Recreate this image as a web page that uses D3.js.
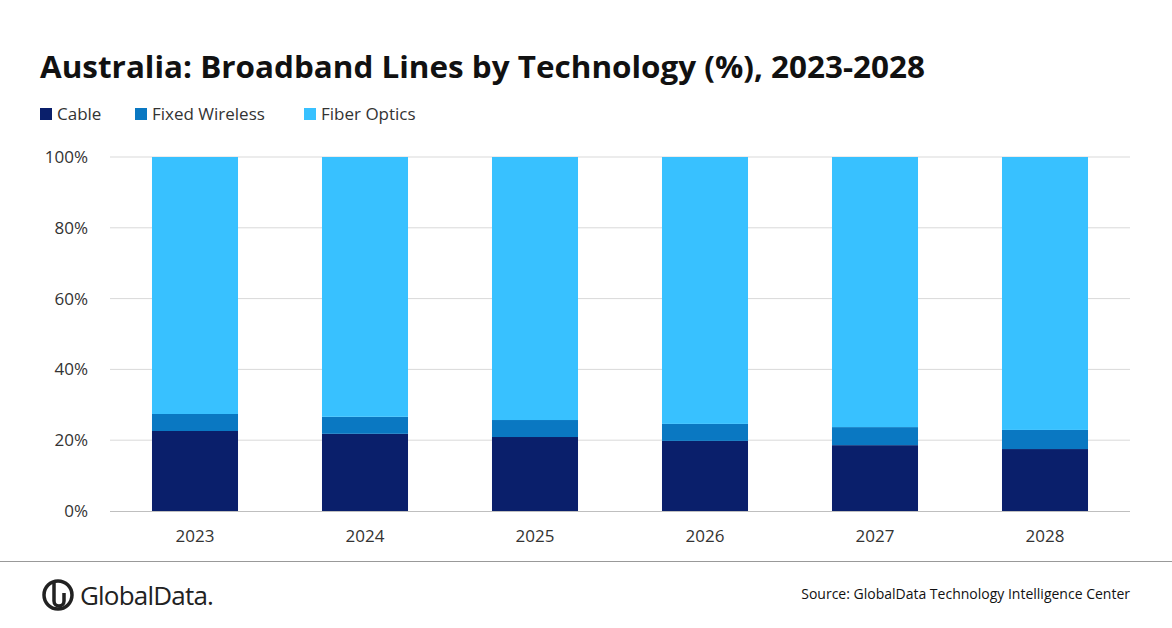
<!DOCTYPE html>
<html><head><meta charset="utf-8">
<script src="https://cdn.jsdelivr.net/npm/d3@7"></script>
<style>body{margin:0;background:#fff;font-family:"Open Sans",sans-serif}</style>
</head><body><div id="chart"></div>
<script>
const years = ["2023", "2024", "2025", "2026", "2027", "2028"];
const cable = [22.6, 21.8, 20.9, 19.8, 18.6, 17.5];
const fixedWireless = [4.8, 4.8, 4.8, 4.8, 5.1, 5.4];
const fiberOptics = years.map((y, i) => 100 - cable[i] - fixedWireless[i]);
const seriesNames = ["Cable", "Fixed Wireless", "Fiber Optics"];
const colors = ["#0a1f6b", "#0a78c2", "#38c1ff"];
const yTicks = [0, 20, 40, 60, 80, 100];

const W = 1172, H = 628;
const svg = d3.select("#chart").append("svg").attr("width", W).attr("height", H);

svg.append("text").attr("x", 40).attr("y", 78).attr("font-size", 31).attr("font-weight", "bold")
  .attr("fill", "#111").attr("textLength", 885).attr("lengthAdjust", "spacingAndGlyphs")
  .text("Australia: Broadband Lines by Technology (%), 2023-2028");

// legend
const legendX = [40, 135, 304];
seriesNames.forEach((s, i) => {
  const g = svg.append("g").attr("transform", `translate(${legendX[i]},114)`);
  g.append("rect").attr("y", -6).attr("width", 12).attr("height", 12).attr("fill", colors[i]);
  g.append("text").attr("x", 17).attr("y", 6).attr("font-size", 17).attr("fill", "#333").text(s);
});

const x = d3.scaleBand().domain(years).range([110, 1130]).paddingInner(0.494).paddingOuter(0.247);
const y = d3.scaleLinear().domain([0, 100]).range([511, 157]);

svg.append("g").selectAll("line").data(yTicks.slice(1)).join("line")
  .attr("x1", 110).attr("x2", 1130).attr("y1", d => y(d)).attr("y2", d => y(d))
  .attr("stroke", "#d9d9d9");

const stack = d3.stack().keys([0, 1, 2]).value((d, k) => d[k]);
const rows = years.map((yr, i) => ({ year: yr, 0: cable[i], 1: fixedWireless[i], 2: fiberOptics[i] }));
stack(rows).forEach((layer, k) => {
  svg.append("g").selectAll("rect").data(layer).join("rect")
    .attr("x", d => x(d.data.year)).attr("width", x.bandwidth())
    .attr("y", d => y(d[1])).attr("height", d => y(d[0]) - y(d[1]))
    .attr("fill", colors[k]);
});

svg.append("line").attr("x1", 110).attr("x2", 1130).attr("y1", 511.5).attr("y2", 511.5).attr("stroke", "#bfbfbf");

const yAxis = svg.append("g").attr("transform", "translate(91,0)")
  .call(d3.axisLeft(y).tickValues(yTicks).tickFormat(d => d + "%").tickSize(0));
yAxis.select(".domain").remove();
yAxis.selectAll("text").attr("font-size", 17).attr("fill", "#333").attr("font-family", "'Open Sans',sans-serif");

const xAxis = svg.append("g").attr("transform", "translate(0,527)")
  .call(d3.axisBottom(x).tickSize(0));
xAxis.select(".domain").remove();
xAxis.selectAll("text").attr("font-size", 17).attr("fill", "#333").attr("font-family", "'Open Sans',sans-serif");

svg.append("line").attr("x1", 0).attr("x2", W).attr("y1", 561.5).attr("y2", 561.5).attr("stroke", "#999");

// logo
const logo = svg.append("g").attr("transform", "translate(58,595)");
logo.append("circle").attr("r", 14).attr("fill", "none").attr("stroke", "#222").attr("stroke-width", 3.5);
logo.append("path").attr("d", "M-4,-14 L-4,6 A5,5 0 0 0 6,6 L6,-2").attr("fill", "none").attr("stroke", "#222").attr("stroke-width", 3.5);
svg.append("text").attr("x", 80).attr("y", 605).attr("font-size", 26).attr("fill", "#222")
  .attr("letter-spacing", -0.8).text("GlobalData.");

svg.append("text").attr("x", 1130).attr("y", 599).attr("text-anchor", "end").attr("font-size", 14)
  .attr("fill", "#111").text("Source:  GlobalData Technology Intelligence Center");
</script></body></html>
